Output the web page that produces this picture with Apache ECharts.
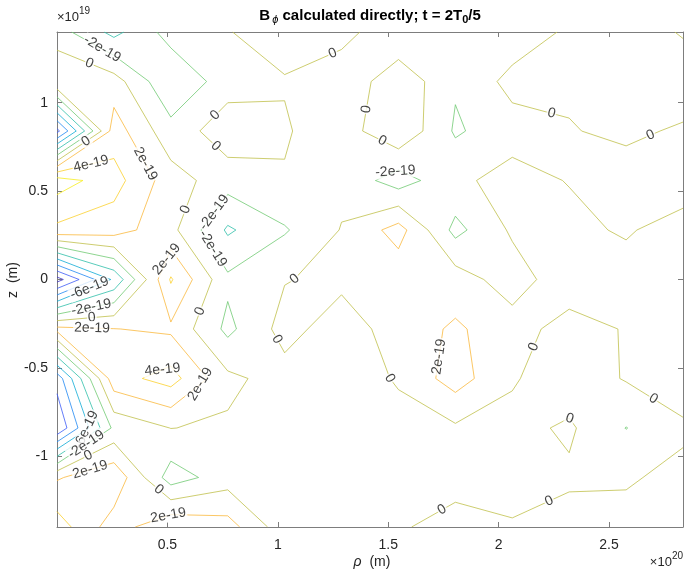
<!DOCTYPE html>
<html>
<head>
<meta charset="utf-8">
<script src="https://cdn.jsdelivr.net/npm/echarts@6/dist/echarts.min.js"></script>
<style>
html,body{margin:0;padding:0;background:#fff;}
#c{width:686px;height:573px;}
</style>
</head>
<body>
<div id="c"></div>
<script>
// radial grid, units of 1e20 m
const rho = [0, 0.2577, 0.5155, 0.7732, 1.0309, 1.2886, 1.5464, 1.8041, 2.0618, 2.3195, 2.5773, 2.835];
// axial grid, units of 1e19 m (top row first)
const zGrid = [1.4, 1.12, 0.84, 0.56, 0.28, 0, -0.28, -0.56, -0.84, -1.12, -1.4];
// B_phi sampled on the grid, units of 1e-19 (one row per z, one column per rho)
const bphi = [
  [-1.1, -4.6, -1.15, -0.06, 0.64, 0.9, -1.9, -1.2, -1.3, 0.35, 1.2, -0.2],
  [1.9, 0.9, -3.8, -0.94, -0.104, -1.65, 1.52, -1.78, 0.65, 0.34, 1.0, 1.32],
  [-10.6, 3.0, -1.3, 1.25, 0.163, -1.0, 1.7, -2.25, -0.86, -0.12, 0.43, -0.29],
  [7.0, 4.8, 0.9, -1.1, -0.123, -0.53, -3.0, -0.45, 0.76, -0.1, -1.0, -1.63],
  [3.5, 2.93, 0.6, -4.3, -2.2, 0.1, 2.8, -2.6, 0.3, 0.64, -0.3, 1.28],
  [-12.8, -5.6, 4.2, -1.6, -0.1, 0.49, 0.7, 1.0, -1.0, 1.33, 1.2, 1.3],
  [2.6, 2.05, 1.64, -2.5, 0.75, -1.1, 0.98, 2.28, 0.92, -0.89, 0.15, 1.1],
  [-9.2, 3.2, 4.8, 0.45, -0.81, -1.64, 0.29, 2.9, 0.2, -1.2, 0.15, 0.9],
  [-11.8, -1.5, 0.03, -0.25, -1.0, -1.2, -1.0, -0.3, -0.6, 0.3, -2.05, -0.25],
  [1.8, 3.5, -3.0, -0.95, -1.0, -1.1, -0.8, -0.5, -0.8, -0.3, -0.16, 0.38],
  [5.0, 1.0, 3.67, 2.86, -1.22, -0.9, -0.15, 0.5, 0.18, 0.73, 0.48, 0.8]
];
const valueScale = 1e-19;
// contour levels, units of 1e-19
const levels = [-12, -10, -8, -6, -4, -2, 0, 2, 4, 6];
const xTicks = [0.5, 1, 1.5, 2, 2.5];
const yTicks = [-1, -0.5, 0, 0.5, 1];

const TEXT = '#262626';
const BOX = '#7d7d7d';
const FONT = '"Liberation Sans", Arial, Helvetica, sans-serif';

// parula-like colormap stops
const cmapStops = [
  [0.00, 0.242, 0.150, 0.660],
  [0.12, 0.270, 0.330, 0.970],
  [0.22, 0.150, 0.500, 0.970],
  [0.33, 0.050, 0.660, 0.860],
  [0.43, 0.150, 0.740, 0.700],
  [0.53, 0.400, 0.800, 0.480],
  [0.64, 0.740, 0.760, 0.300],
  [0.74, 0.980, 0.720, 0.250],
  [0.85, 0.985, 0.820, 0.180],
  [0.95, 0.965, 0.930, 0.120],
  [1.00, 0.976, 0.983, 0.080]
];
function cmap(t) {
  t = Math.max(0, Math.min(1, t));
  for (let k = 1; k < cmapStops.length; k++) {
    const a = cmapStops[k - 1], b = cmapStops[k];
    if (t <= b[0]) {
      const f = (t - a[0]) / (b[0] - a[0]);
      const c = [1, 2, 3].map(n => Math.round(255 * (a[n] + f * (b[n] - a[n]))));
      return 'rgb(' + c.join(',') + ')';
    }
  }
  return 'rgb(249,251,20)';
}

let vmin = Infinity, vmax = -Infinity;
bphi.forEach(r => r.forEach(v => { vmin = Math.min(vmin, v); vmax = Math.max(vmax, v); }));

// marching squares on the rho-z grid
function edgeNodes(key) {
  const p = key.split(',');
  const i = +p[1], j = +p[2];
  return p[0] === 'h' ? [[i, j], [i + 1, j]] : [[i, j], [i, j + 1]];
}
function edgePoint(key, L) {
  const [n1, n2] = edgeNodes(key);
  const v1 = bphi[n1[1]][n1[0]], v2 = bphi[n2[1]][n2[0]];
  const t = (L - v1) / (v2 - v1);
  return [rho[n1[0]] + t * (rho[n2[0]] - rho[n1[0]]), zGrid[n1[1]] + t * (zGrid[n2[1]] - zGrid[n1[1]])];
}
function contourLines(L) {
  const segs = [];
  for (let j = 0; j < zGrid.length - 1; j++) {
    for (let i = 0; i < rho.length - 1; i++) {
      const a = bphi[j][i], b = bphi[j][i + 1], c = bphi[j + 1][i + 1], d = bphi[j + 1][i];
      const ia = a > L, ib = b > L, ic = c > L, id = d > L;
      const T = 'h,' + i + ',' + j, B = 'h,' + i + ',' + (j + 1);
      const Lf = 'v,' + i + ',' + j, R = 'v,' + (i + 1) + ',' + j;
      const crossed = [];
      if (ia !== ib) crossed.push(T);
      if (ib !== ic) crossed.push(R);
      if (ic !== id) crossed.push(B);
      if (id !== ia) crossed.push(Lf);
      if (crossed.length === 2) segs.push([crossed[0], crossed[1]]);
      else if (crossed.length === 4) {
        const center = (a + b + c + d) / 4 > L;
        if (ia !== center) segs.push([T, Lf]);
        if (ib !== center) segs.push([T, R]);
        if (ic !== center) segs.push([R, B]);
        if (id !== center) segs.push([B, Lf]);
      }
    }
  }
  const adj = {};
  segs.forEach((s, k) => s.forEach(e => { (adj[e] = adj[e] || []).push(k); }));
  const used = new Array(segs.length).fill(false);
  function walk(k, e) {
    const chain = [e];
    let cur = k;
    while (cur !== -1 && !used[cur]) {
      used[cur] = true;
      const s = segs[cur];
      const other = s[0] === e ? s[1] : s[0];
      chain.push(other);
      const nxt = (adj[other] || []).find(m => !used[m]);
      e = other;
      cur = nxt === undefined ? -1 : nxt;
    }
    return chain;
  }
  const chains = [];
  Object.keys(adj).forEach(e => {
    if (adj[e].length === 1 && !used[adj[e][0]]) chains.push({ closed: false, keys: walk(adj[e][0], e) });
  });
  segs.forEach((s, k) => { if (!used[k]) chains.push({ closed: true, keys: walk(k, s[0]) }); });
  return chains.map(ch => ({ closed: ch.closed, keys: ch.keys, pts: ch.keys.map(e => edgePoint(e, L)) }));
}

function levelText(L) {
  if (L === 0) return '0';
  const v = parseFloat((L * valueScale).toPrecision(6));
  return v.toExponential().replace('e+', 'e');
}

const contours = levels.map(L => ({
  level: L,
  color: cmap((L - vmin) / (vmax - vmin)),
  lines: contourLines(L)
}));

const chart = echarts.init(document.getElementById('c'), null, { renderer: 'canvas', width: 686, height: 573 });

const axisCommon = {
  type: 'value',
  splitLine: { show: false },
  axisLine: { show: true, onZero: false, lineStyle: { color: BOX, width: 1 } },
  axisTick: { show: true, inside: true, length: 5, lineStyle: { color: BOX, width: 1 } }
};

const lineSeries = contours.map(c => ({
  type: 'lines',
  coordinateSystem: 'cartesian2d',
  polyline: true,
  silent: true,
  animation: false,
  z: 2,
  lineStyle: { color: c.color, width: 1, opacity: 0.8 },
  data: c.lines.map(ln => ({ coords: ln.pts }))
}));

chart.setOption({
  animation: false,
  backgroundColor: '#ffffff',
  grid: { left: 57, top: 32, right: 3, bottom: 46, containLabel: false },
  xAxis: [
    Object.assign({}, axisCommon, {
      position: 'bottom', min: 0, max: 2.835,
      axisTick: Object.assign({}, axisCommon.axisTick, { customValues: xTicks }),
      axisLabel: { customValues: xTicks, color: TEXT, fontSize: 14, fontFamily: FONT, margin: 11 }
    }),
    Object.assign({}, axisCommon, {
      position: 'top', min: 0, max: 2.835,
      axisTick: Object.assign({}, axisCommon.axisTick, { customValues: xTicks }),
      axisLabel: { show: false }
    })
  ],
  yAxis: [
    Object.assign({}, axisCommon, {
      position: 'left', min: -1.4, max: 1.4,
      axisTick: Object.assign({}, axisCommon.axisTick, { customValues: yTicks }),
      axisLabel: { customValues: yTicks, color: TEXT, fontSize: 14, fontFamily: FONT, margin: 9 }
    }),
    Object.assign({}, axisCommon, {
      position: 'right', min: -1.4, max: 1.4,
      axisTick: Object.assign({}, axisCommon.axisTick, { customValues: yTicks }),
      axisLabel: { show: false }
    })
  ],
  series: lineSeries
});

const ctx = document.createElement('canvas').getContext('2d');
function textWidth(str, font) { ctx.font = font; return ctx.measureText(str).width; }
const toPx = p => chart.convertToPixel({ gridIndex: 0 }, p);

// inline labels along the contour lines
const LABEL_FONT = '14px ' + FONT;
const SPACING = 195;
const labelData = [];
const placed = [];
contours.forEach(c => {
  const txt = levelText(c.level);
  const w = textWidth(txt, LABEL_FONT);
  c.lines.forEach(ln => {
    let px = ln.pts.map(toPx);
    if (ln.closed) {
      // closed loops: start at the left-most point and run clockwise on screen
      px = px.slice(0, -1);
      let area = 0;
      for (let k = 0; k < px.length; k++) {
        const q = px[(k + 1) % px.length];
        area += px[k][0] * q[1] - q[0] * px[k][1];
      }
      if (area < 0) px.reverse();
      let iMin = 0;
      px.forEach((p, k) => { if (p[0] < px[iMin][0]) iMin = k; });
      px = px.slice(iMin).concat(px.slice(0, iMin));
      px.push(px[0]);
    } else {
      // open lines run with the higher values on their right-hand side
      const nodes = edgeNodes(ln.keys[0]);
      const hi = nodes.find(n => bphi[n[1]][n[0]] > c.level);
      const hp = toPx([rho[hi[0]], zGrid[hi[1]]]);
      const dx = px[1][0] - px[0][0], dy = px[1][1] - px[0][1];
      const vx = hp[0] - px[0][0], vy = hp[1] - px[0][1];
      if (dx * vy - dy * vx < 0) px.reverse();
    }
    const cum = [0];
    for (let k = 1; k < px.length; k++) {
      cum.push(cum[k - 1] + Math.hypot(px[k][0] - px[k - 1][0], px[k][1] - px[k - 1][1]));
    }
    const len = cum[cum.length - 1];
    if (len < Math.max(70, 2.3 * w)) return;
    const at = s => {
      s = Math.max(0, Math.min(len, s));
      let k = 1;
      while (k < cum.length - 1 && cum[k] < s) k++;
      const f = (s - cum[k - 1]) / ((cum[k] - cum[k - 1]) || 1);
      return [px[k - 1][0] + f * (px[k][0] - px[k - 1][0]), px[k - 1][1] + f * (px[k][1] - px[k - 1][1])];
    };
    const spots = [];
    if (ln.closed) {
      const o = Math.max(22, w / 2);
      spots.push(o);
      if (len > 220) spots.push(len - o);
    } else {
      for (let s = 35; s <= len - 25 || spots.length === 0; s += SPACING) spots.push(Math.min(s, len / 2));
    }
    spots.forEach(s => {
      const p = at(s);
      if (placed.some(q => Math.abs(q[0] - p[0]) < 14 && Math.abs(q[1] - p[1]) < 10)) return;
      placed.push(p);
      const p1 = at(s - w / 2 - 2), p2 = at(s + w / 2 + 2);
      let ang = Math.atan2(-(p2[1] - p1[1]), p2[0] - p1[0]) * 180 / Math.PI;
      if (ang > 90) ang -= 180;
      if (ang < -90) ang += 180;
      labelData.push({
        value: chart.convertFromPixel({ gridIndex: 0 }, p),
        name: txt,
        label: { rotate: ang }
      });
    });
  });
});

// title, axis names and exponent markers
const titleParts = [
  { t: 'B', font: 'bold 15px ' + FONT, dy: 0 },
  { t: ' ', font: 'bold 8px ' + FONT, dy: 0 },
  { t: '\u03D5', font: 'italic 11px ' + FONT, dy: 6 },
  { t: ' calculated directly; t = 2T', font: 'bold 15px ' + FONT, dy: 0 },
  { t: '0', font: 'bold 11px ' + FONT, dy: 6 },
  { t: '/5', font: 'bold 15px ' + FONT, dy: 0 }
];
const titleW = titleParts.reduce((s, p) => s + textWidth(p.t, p.font), 0);
let tx = 370 - titleW / 2;
const graphics = [];
titleParts.forEach(p => {
  graphics.push({ type: 'text', left: tx, top: 8 + p.dy, silent: true, style: { text: p.t, font: p.font, fill: '#000' } });
  tx += textWidth(p.t, p.font);
});
const x10w = textWidth('\u00D710', '13px ' + FONT);
graphics.push({ type: 'text', left: 57, top: 11, style: { text: '\u00D710', font: '13px ' + FONT, fill: TEXT } });
graphics.push({ type: 'text', left: 57 + x10w, top: 6, style: { text: '19', font: '10px ' + FONT, fill: TEXT } });
const s20w = textWidth('20', '10px ' + FONT);
graphics.push({ type: 'text', left: 683 - s20w - x10w, top: 556, style: { text: '\u00D710', font: '13px ' + FONT, fill: TEXT } });
graphics.push({ type: 'text', left: 683 - s20w, top: 551, style: { text: '20', font: '10px ' + FONT, fill: TEXT } });
const rhoW = textWidth('\u03C1', 'italic 14px ' + FONT), restW = textWidth('  (m)', '14px ' + FONT);
const nameX = 372 - (rhoW + restW) / 2;
graphics.push({ type: 'text', left: nameX, top: 555, style: { text: '\u03C1', font: 'italic 14px ' + FONT, fill: TEXT } });
graphics.push({ type: 'text', left: nameX + rhoW, top: 555, style: { text: '  (m)', font: '14px ' + FONT, fill: TEXT } });
graphics.push({
  type: 'text', x: 13, y: 280, rotation: Math.PI / 2,
  style: { text: 'z  (m)', font: '14px ' + FONT, fill: TEXT, align: 'center', verticalAlign: 'middle' }
});

chart.setOption({
  graphic: graphics,
  series: lineSeries.concat([{
    type: 'scatter',
    silent: true,
    animation: false,
    z: 5,
    symbolSize: 0,
    data: labelData,
    label: {
      show: true,
      position: 'inside',
      formatter: '{b}',
      color: '#111',
      fontSize: 14,
      fontFamily: FONT,
      backgroundColor: '#ffffff',
      padding: [0, 1]
    }
  }])
});
</script>
</body>
</html>
